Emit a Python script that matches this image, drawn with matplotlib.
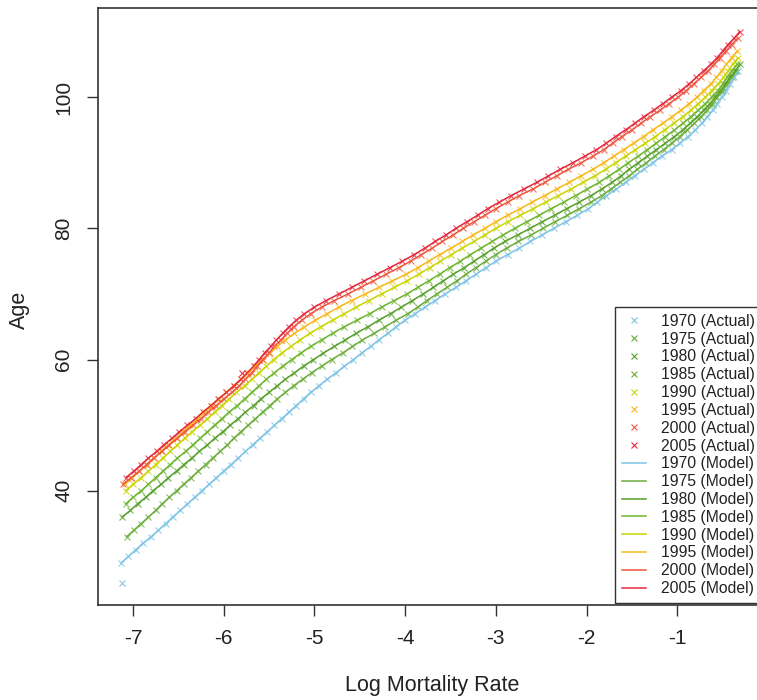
import numpy as np
import matplotlib
matplotlib.use("Agg")
import matplotlib.pyplot as plt
from matplotlib.lines import Line2D

plt.rcParams['font.family'] = ['Liberation Sans', 'DejaVu Sans']
plt.rcParams['axes.unicode_minus'] = False

# ---- data: log mortality rate at each integer age (age on y axis) ----
years = [1970, 1975, 1980, 1985, 1990, 1995, 2000, 2005]
start_age = [29, 33, 36, 38, 40, 41, 41, 42]

logm_1970 = [-7.13, -7.05, -6.97, -6.89, -6.80, -6.72, -6.64, -6.56, -6.48, -6.40,
             -6.32, -6.24, -6.16, -6.08, -6.00, -5.92, -5.84, -5.76, -5.68, -5.60,
             -5.52, -5.44, -5.36, -5.28, -5.20, -5.12, -5.04, -4.95, -4.86, -4.76,
             -4.67, -4.57, -4.48, -4.38, -4.29, -4.19, -4.10, -4.00, -3.89, -3.78,
             -3.67, -3.56, -3.44, -3.33, -3.22, -3.11, -3.00, -2.87, -2.74, -2.62,
             -2.49, -2.36, -2.23, -2.10, -1.98, -1.88, -1.78, -1.67, -1.57, -1.47,
             -1.37, -1.27, -1.17, -1.06, -0.97, -0.88, -0.80, -0.73, -0.67, -0.61,
             -0.56, -0.51, -0.46, -0.42, -0.37, -0.33]
logm_1975 = [-7.07, -6.99, -6.91, -6.83, -6.75, -6.68, -6.60, -6.52, -6.44, -6.36,
             -6.28, -6.20, -6.12, -6.04, -5.96, -5.89, -5.81, -5.73, -5.65, -5.57,
             -5.49, -5.41, -5.32, -5.23, -5.13, -5.03, -4.92, -4.81, -4.69, -4.58,
             -4.47, -4.34, -4.22, -4.10, -3.97, -3.86, -3.76, -3.65, -3.54, -3.43,
             -3.33, -3.22, -3.11, -3.00, -2.88, -2.75, -2.61, -2.48, -2.35, -2.21,
             -2.08, -1.95, -1.83, -1.73, -1.63, -1.53, -1.44, -1.34, -1.25, -1.15,
             -1.06, -0.97, -0.89, -0.81, -0.74, -0.67, -0.61, -0.56, -0.50, -0.45,
             -0.40, -0.35]
logm_1980 = [-7.12, -7.03, -6.95, -6.86, -6.78, -6.69, -6.61, -6.52, -6.44, -6.35,
             -6.27, -6.18, -6.10, -6.01, -5.93, -5.84, -5.76, -5.67, -5.59, -5.50,
             -5.41, -5.32, -5.22, -5.12, -5.01, -4.90, -4.78, -4.66, -4.54, -4.41,
             -4.29, -4.16, -4.04, -3.92, -3.80, -3.69, -3.58, -3.47, -3.35, -3.24,
             -3.13, -3.02, -2.90, -2.76, -2.62, -2.49, -2.35, -2.22, -2.08, -1.95,
             -1.83, -1.72, -1.62, -1.53, -1.43, -1.33, -1.23, -1.13, -1.03, -0.94,
             -0.86, -0.78, -0.71, -0.64, -0.58, -0.52, -0.47, -0.42, -0.36, -0.31]
logm_1985 = [-7.08, -7.00, -6.91, -6.83, -6.75, -6.67, -6.59, -6.51, -6.42, -6.34,
             -6.26, -6.18, -6.10, -6.02, -5.94, -5.85, -5.77, -5.69, -5.61, -5.53,
             -5.44, -5.35, -5.25, -5.15, -5.04, -4.92, -4.80, -4.67, -4.53, -4.39,
             -4.26, -4.12, -3.98, -3.86, -3.74, -3.62, -3.51, -3.39, -3.28, -3.16,
             -3.04, -2.92, -2.79, -2.66, -2.52, -2.39, -2.25, -2.12, -1.99, -1.86,
             -1.75, -1.64, -1.54, -1.43, -1.33, -1.23, -1.13, -1.03, -0.94, -0.85,
             -0.77, -0.69, -0.62, -0.55, -0.50, -0.45, -0.40, -0.34]
logm_1990 = [-7.08, -7.00, -6.91, -6.83, -6.75, -6.67, -6.59, -6.51, -6.43, -6.35,
             -6.26, -6.18, -6.10, -6.02, -5.94, -5.86, -5.77, -5.69, -5.61, -5.53,
             -5.45, -5.36, -5.26, -5.16, -5.05, -4.93, -4.80, -4.67, -4.54, -4.40,
             -4.26, -4.12, -3.98, -3.85, -3.73, -3.61, -3.49, -3.37, -3.24, -3.12,
             -3.00, -2.87, -2.73, -2.59, -2.45, -2.31, -2.17, -2.04, -1.91, -1.79,
             -1.68, -1.57, -1.46, -1.35, -1.24, -1.14, -1.04, -0.94, -0.85, -0.77,
             -0.69, -0.62, -0.55, -0.49, -0.44, -0.39, -0.33]
logm_1995 = [-7.09, -7.01, -6.93, -6.85, -6.77, -6.69, -6.61, -6.53, -6.45, -6.37,
             -6.29, -6.21, -6.13, -6.05, -5.97, -5.89, -5.81, -5.73, -5.65, -5.57,
             -5.49, -5.41, -5.32, -5.22, -5.11, -4.99, -4.86, -4.73, -4.59, -4.44,
             -4.29, -4.14, -3.99, -3.86, -3.74, -3.62, -3.49, -3.37, -3.25, -3.12,
             -3.00, -2.87, -2.73, -2.60, -2.46, -2.33, -2.19, -2.06, -1.93, -1.81,
             -1.70, -1.59, -1.48, -1.37, -1.27, -1.16, -1.06, -0.96, -0.87, -0.78,
             -0.71, -0.63, -0.57, -0.51, -0.46, -0.40, -0.34]
logm_2000 = [-7.11, -7.02, -6.93, -6.85, -6.77, -6.68, -6.60, -6.51, -6.43, -6.34,
             -6.25, -6.17, -6.08, -6.00, -5.91, -5.83, -5.76, -5.69, -5.63, -5.57,
             -5.50, -5.44, -5.37, -5.30, -5.23, -5.14, -5.04, -4.92, -4.78, -4.63,
             -4.49, -4.35, -4.21, -4.07, -3.94, -3.82, -3.70, -3.59, -3.47, -3.36,
             -3.24, -3.12, -3.00, -2.87, -2.74, -2.59, -2.46, -2.33, -2.20, -2.06,
             -1.93, -1.81, -1.71, -1.61, -1.50, -1.40, -1.30, -1.19, -1.09, -0.99,
             -0.90, -0.82, -0.74, -0.66, -0.59, -0.53, -0.46, -0.40, -0.33]
logm_2005 = [-7.08, -6.99, -6.91, -6.83, -6.74, -6.66, -6.57, -6.49, -6.40, -6.31,
             -6.23, -6.14, -6.06, -5.97, -5.89, -5.81, -5.74, -5.67, -5.61, -5.55,
             -5.48, -5.42, -5.35, -5.28, -5.20, -5.11, -5.00, -4.87, -4.73, -4.59,
             -4.45, -4.31, -4.17, -4.03, -3.90, -3.78, -3.67, -3.55, -3.44, -3.32,
             -3.20, -3.09, -2.96, -2.83, -2.69, -2.55, -2.42, -2.29, -2.15, -2.02,
             -1.89, -1.78, -1.68, -1.57, -1.47, -1.37, -1.26, -1.16, -1.06, -0.96,
             -0.87, -0.79, -0.71, -0.63, -0.56, -0.50, -0.44, -0.37, -0.31]

# isolated observed points that stand off the fitted curves
outlier_years = [1970, 2005]
outlier_ages = [26, 58]
outlier_logm = [-7.12, -5.80]

colors = ['#7cc3e6', '#6aad3a', '#55a02a', '#6cb52c', '#c9d500', '#f8b818', '#f0553c', '#e5283c']

series = [logm_1970, logm_1975, logm_1980, logm_1985, logm_1990, logm_1995, logm_2000, logm_2005]

# ---- figure ----
W, H = 757, 700
fig = plt.figure(figsize=(W / 100, H / 100), dpi=100)
ax_left, ax_right, ax_top, ax_bot = 98, 762, 8, 605
ax = fig.add_axes([ax_left / W, 1 - ax_bot / H, (ax_right - ax_left) / W, (ax_bot - ax_top) / H])

for yr, a0, lm, c in zip(years, start_age, series, colors):
    ages = np.arange(a0, a0 + len(lm))
    ax.plot(lm, ages, linestyle='None', marker='x', markersize=4.6,
            markeredgewidth=0.75, color=c, alpha=0.85, zorder=2)
    ax.plot(lm, ages, color=c, linewidth=1.1, zorder=3)

for yr, ag, lm in zip(outlier_years, outlier_ages, outlier_logm):
    c = colors[years.index(yr)]
    ax.plot([lm], [ag], linestyle='None', marker='x', markersize=4.6,
            markeredgewidth=0.75, color=c, zorder=2)

px_per_x = 90.7
ax.set_xlim(-7 - (133 - ax_left) / px_per_x, -7 + (ax_right - 133) / px_per_x)
px_per_y = 6.55
ax.set_ylim(40 - (ax_bot - 491) / px_per_y, 100 + (97 - ax_top) / px_per_y)

ax.set_xticks([-7, -6, -5, -4, -3, -2, -1])
ax.set_yticks([40, 60, 80, 100])
ax.tick_params(axis='both', direction='out', length=8, width=1.0, colors='#333333',
               labelcolor='#222222', labelsize=15)
ax.tick_params(axis='x', pad=9)
ax.tick_params(axis='y', pad=10)
for lab in ax.get_yticklabels():
    lab.set_rotation(90)
    lab.set_va('center')
for s in ax.spines.values():
    s.set_linewidth(1.2)
    s.set_color('#333333')

ax.set_xlabel('Log Mortality Rate', fontsize=15.5, color='#222222')
ax.xaxis.set_label_coords((432 - ax_left) / (ax_right - ax_left), -(685 - ax_bot) / (ax_bot - ax_top))
ax.xaxis.label.set_va('center')
ax.set_ylabel('Age', fontsize=15.5, color='#222222')
ax.yaxis.set_label_coords(-(ax_left - 19) / (ax_right - ax_left), (ax_bot - 310) / (ax_bot - ax_top))
ax.yaxis.label.set_va('center')

handles, labels = [], []
for yr, c in zip(years, colors):
    handles.append(Line2D([], [], linestyle='None', marker='x', markersize=4.8,
                          markeredgewidth=0.8, color=c))
    labels.append(f'{yr} (Actual)')
for yr, c in zip(years, colors):
    handles.append(Line2D([], [], color=c, linewidth=1.1))
    labels.append(f'{yr} (Model)')

leg = ax.legend(handles, labels, loc='lower right', bbox_to_anchor=(1, 0.003),
                borderaxespad=0, fontsize=11.3, frameon=True, fancybox=False,
                edgecolor='#333333', handlelength=1.55, handletextpad=0.95,
                labelspacing=0.18, borderpad=0.45)
leg.get_frame().set_linewidth(1.0)
leg.get_frame().set_alpha(1)
for t in leg.get_texts():
    t.set_color('#222222')

fig.savefig('out.png', dpi=100)
